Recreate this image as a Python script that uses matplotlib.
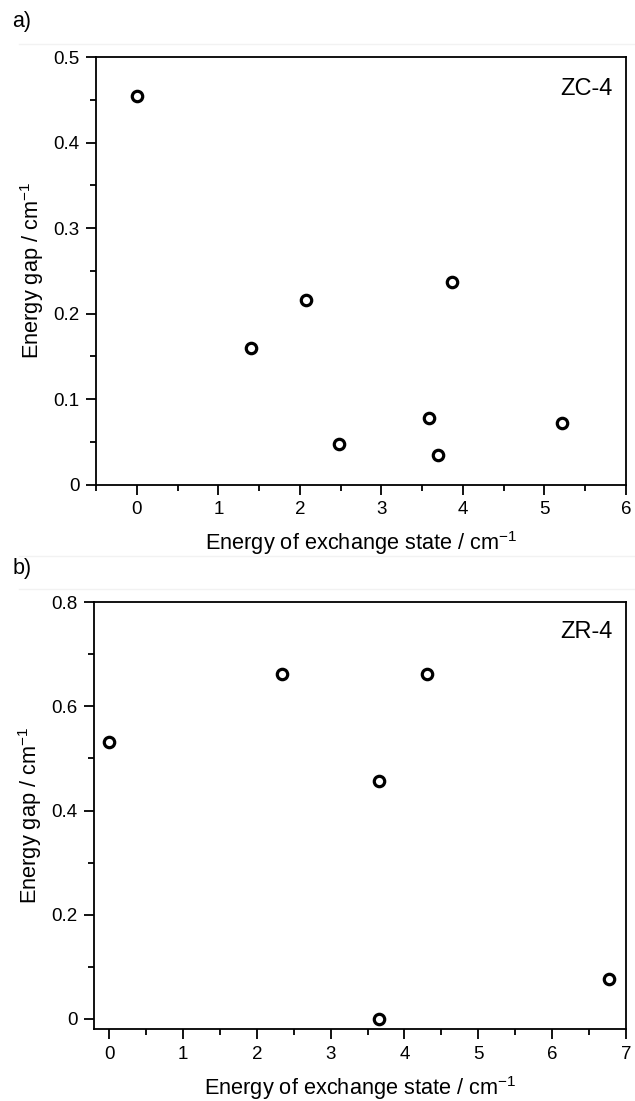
import numpy as np
import matplotlib.pyplot as plt
from matplotlib.ticker import MultipleLocator
from matplotlib.lines import Line2D

plt.rcParams['font.family'] = ['Liberation Sans', 'DejaVu Sans']
plt.rcParams['mathtext.fontset'] = 'custom'
plt.rcParams['mathtext.rm'] = 'Liberation Sans'

# ZC-4 data
zc_x = [0.0, 1.40, 2.08, 2.48, 3.59, 3.69, 3.86, 5.22]
zc_y = [0.455, 0.160, 0.216, 0.047, 0.078, 0.035, 0.237, 0.072]

# ZR-4 data
zr_x = [0.0, 2.34, 4.30, 3.65, 3.65, 6.77]
zr_y = [0.532, 0.663, 0.663, 0.457, 0.0, 0.076]

fig = plt.figure(figsize=(6.35, 11.01), dpi=100)
ax1 = fig.add_axes([0.1512, 0.5598, 0.8346, 0.3884])
ax2 = fig.add_axes([0.1485, 0.0651, 0.8373, 0.3879])


def style(ax, xmaj, ymaj, yminor):
    for s in ax.spines.values():
        s.set_linewidth(1.3)
    ax.xaxis.set_major_locator(MultipleLocator(xmaj))
    ax.xaxis.set_minor_locator(MultipleLocator(xmaj / 2))
    ax.yaxis.set_major_locator(MultipleLocator(ymaj))
    ax.yaxis.set_minor_locator(MultipleLocator(yminor))
    ax.tick_params(which='major', direction='out', length=7, width=1.3, labelsize=13.5, pad=5)
    ax.tick_params(which='minor', direction='out', length=4, width=1.3)
    ax.set_xlabel('Energy of exchange state / cm$^{-1}$', fontsize=15.7, labelpad=8)
    ax.set_ylabel('Energy gap / cm$^{-1}$', fontsize=15.7, labelpad=5)
    ax.yaxis.set_major_formatter(plt.FuncFormatter(lambda v, p: '0' if abs(v) < 1e-9 else f'{v:g}'))


ax1.plot(zc_x, zc_y, 'o', mfc='white', mec='black', ms=7.5, mew=2.3, ls='none')
ax1.set_xlim(-0.5, 6)
ax1.set_ylim(0, 0.5)
style(ax1, 1, 0.1, 0.05)
ax1.text(0.975, 0.95, 'ZC-4', transform=ax1.transAxes, ha='right', va='top', fontsize=17)

ax2.plot(zr_x, zr_y, 'o', mfc='white', mec='black', ms=7.5, mew=2.3, ls='none')
ax2.set_xlim(-0.2, 7)
ax2.set_ylim(-0.02, 0.8)
style(ax2, 1, 0.2, 0.1)
ax2.text(0.975, 0.955, 'ZR-4', transform=ax2.transAxes, ha='right', va='top', fontsize=17)

fig.text(0.019, 1 - 22 / 1101, 'a)', fontsize=15.5, ha='left', va='center')
fig.text(0.019, 0.484, 'b)', fontsize=15.5, ha='left', va='center')

# faint panel separators
for yy in [1 - 44 / 1101, 1 - 556 / 1101, 1 - 589 / 1101]:
    fig.add_artist(Line2D([0.03, 1.0], [yy, yy], transform=fig.transFigure, color='#f2f2f2', lw=1))

fig.savefig('out.png', dpi=100)
